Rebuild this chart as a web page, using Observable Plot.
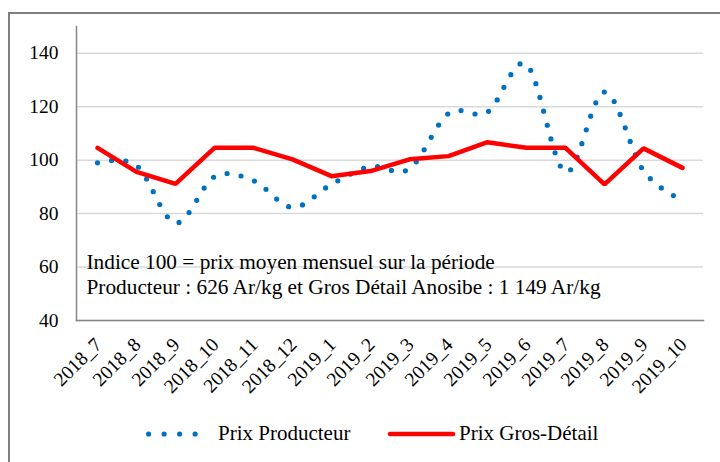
<!DOCTYPE html>
<html><head><meta charset="utf-8">
<script src="https://cdn.jsdelivr.net/npm/d3@7"></script>
<script src="https://cdn.jsdelivr.net/npm/@observablehq/plot@0.6"></script>
<style>
html,body{margin:0;padding:0;background:#fff;}
#wrap{position:relative;width:720px;height:462px;overflow:hidden;font-family:"Liberation Serif",Tinos,"Times New Roman","Liberation Sans",sans-serif;color:#000;}
#frame{position:absolute;left:8px;top:12px;width:800px;height:600px;border:2px solid #7f7f7f;box-sizing:border-box;}
#chart{position:absolute;left:0;top:0;}
#legend{position:absolute;left:0;top:400px;width:720px;height:62px;font-size:21px;}
#legend .it{position:absolute;white-space:nowrap;}
</style>
</head><body>
<div id="wrap">
  <div id="frame"></div>
  <div id="chart"></div>
  <div id="legend"></div>
</div>
<script>
const months = ["2018_7","2018_8","2018_9","2018_10","2018_11","2018_12","2019_1","2019_2","2019_3","2019_4","2019_5","2019_6","2019_7","2019_8","2019_9","2019_10"];
const producteur = [99, 98, 76.5, 93.8, 92.3, 82.3, 91, 97.6, 96.8, 117.5, 118, 135.8, 95.5, 125.5, 96, 85];
const grosDetail = [104.6, 95.6, 91.1, 104.6, 104.6, 100.3, 94, 95.9, 100.3, 101.5, 106.7, 104.6, 104.6, 90.9, 104.4, 97.1];
const yTicks = [40, 60, 80, 100, 120, 140];
const seriesNames = ["Prix Producteur", "Prix Gros-Détail"];
const seriesColors = ["#0070c0", "#ff0000"];
const annotation = ["Indice 100 = prix moyen mensuel sur la période", "Producteur : 626 Ar/kg et Gros Détail Anosibe : 1 149 Ar/kg"];

const prodData = months.map((m, i) => ({mois: m, valeur: producteur[i]}));
const grosData = months.map((m, i) => ({mois: m, valeur: grosDetail[i]}));

const font = "'Liberation Serif', Tinos, 'Times New Roman', 'Liberation Sans', sans-serif";

const chart = Plot.plot({
  width: 720, height: 400,
  marginLeft: 76, marginRight: 17, marginTop: 26, marginBottom: 80,
  style: {fontFamily: font, fontSize: "21px", background: "transparent", color: "#000", overflow: "visible"},
  x: {type: "point", domain: months, padding: 0.5, axis: null},
  y: {domain: [40, 150], axis: null},
  marks: [
    Plot.gridY(yTicks, {stroke: "#d9d9d9", strokeOpacity: 1, strokeWidth: 1.5}),
    Plot.frame({anchor: "left", stroke: "#868686", strokeWidth: 1.5}),
    Plot.frame({anchor: "bottom", stroke: "#868686", strokeWidth: 1.5}),
    Plot.axisY(yTicks, {tickSize: 0, tickPadding: 18, fontSize: 19.5, fill: "#000", label: null}),
    Plot.text(months, {x: d => d, frameAnchor: "bottom", dy: 21, dx: 1, rotate: -45, textAnchor: "end", lineAnchor: "middle", fontSize: 19.5, fill: "#000"}),
    Plot.text([annotation.join("\n")], {frameAnchor: "bottom-left", dx: 10, dy: -27, textAnchor: "start", lineAnchor: "bottom", lineHeight: 25/21.3, fontSize: 21.3, fill: "#000"}),
    Plot.line(prodData, {x: "mois", y: "valeur", stroke: seriesColors[0], strokeWidth: 5.2, strokeDasharray: "0 14.3", strokeLinecap: "round", curve: "cardinal", tension: 0}),
    Plot.line(grosData, {x: "mois", y: "valeur", stroke: seriesColors[1], strokeWidth: 4.5, strokeLinejoin: "miter", strokeLinecap: "round"})
  ]
});
document.getElementById("chart").appendChild(chart);

// Legend (below the SVG)
const legend = document.getElementById("legend");
legend.innerHTML =
  `<svg class="it" style="left:146px;top:29px" width="70" height="10"><line x1="2.6" y1="5" x2="64.6" y2="5" stroke="${seriesColors[0]}" stroke-width="5.2" stroke-linecap="round" stroke-dasharray="0 15.5"/></svg>` +
  `<span class="it" style="left:218px;top:21px">${seriesNames[0]}</span>` +
  `<svg class="it" style="left:386px;top:29px" width="72" height="10"><line x1="4" y1="5" x2="67" y2="5" stroke="${seriesColors[1]}" stroke-width="4.5" stroke-linecap="round"/></svg>` +
  `<span class="it" style="left:459px;top:21px">${seriesNames[1]}</span>`;
</script>
</body></html>
